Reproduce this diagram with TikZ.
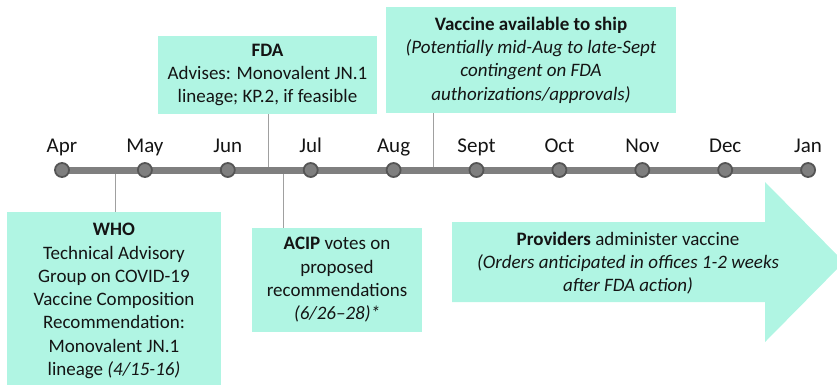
\documentclass[tikz,border=0pt]{standalone}
\usepackage{fontspec}
\setmainfont{Carlito}
\definecolor{mint}{RGB}{176,245,227}
\definecolor{txt}{RGB}{20,20,20}
\definecolor{tlgray}{RGB}{127,127,127}
\definecolor{dotedge}{RGB}{85,85,85}
\definecolor{conngray}{RGB}{160,160,160}
\tikzset{
  box/.style={fill=mint, draw=none, inner sep=0pt, align=center, text=txt,
    font=\fontsize{19}{23.3}\selectfont},
  month/.style={font=\fontsize{21}{24}\selectfont, anchor=base, text=txt, inner sep=0pt},
  tldot/.style={circle, fill=tlgray, draw=dotedge, line width=1.8pt, minimum size=14pt, inner sep=0pt},
  conn/.style={draw=conngray, line width=1pt},
  tline/.style={draw=tlgray, line width=7pt}
}
\begin{document}
\begin{tikzpicture}[x=1pt,y=-1pt]
\useasboundingbox (0,0) rectangle (837,384);
% boxes
\node[box, minimum width=214pt, minimum height=178pt] (who) at (114,301)
  {\textbf{WHO}\\Technical Advisory\\Group on COVID-19\\Vaccine Composition\\Recommendation:\\Monovalent JN.1\\lineage \textit{(4/15-16)}};
\node[box, minimum width=219pt, minimum height=78pt] (fda) at (267.5,75)
  {\textbf{FDA}\\Advises: Monovalent JN.1\\lineage; KP.2, if feasible};
\node[box, minimum width=290pt, minimum height=106pt] (vac) at (531,60)
  {\textbf{Vaccine available to ship}\\\textit{(Potentially mid-Aug to late-Sept}\\\textit{contingent on FDA}\\\textit{authorizations/approvals)}};
\node[box, minimum width=170pt, minimum height=104pt] (acip) at (337,280)
  {\textbf{ACIP} votes on\\proposed\\recommendations\\\textit{(6/26–28)*}};
% arrow
\fill[mint] (452,222) -- (765,222) -- (765,182) -- (844,262) -- (765,342) -- (765,302) -- (452,302) -- cycle;
\node[box, fill=none] (prov) at (628,263)
  {\textbf{Providers} administer vaccine\\\textit{(Orders anticipated in offices 1-2 weeks}\\\textit{after FDA action)}};
% connector anchors on timeline
\coordinate (cwho) at (115,170);
\coordinate (cfda) at (268,170);
\coordinate (cacip) at (283,170);
\coordinate (cvac) at (433,170);
\draw[conn] (cwho) -- (cwho |- who.north);
\draw[conn] (cfda) -- (cfda |- fda.south);
\draw[conn] (cacip) -- (cacip |- acip.north);
\draw[conn] (cvac) -- (cvac |- vac.south);
% timeline
\foreach \m [count=\i from 0] in {Apr,May,Jun,Jul,Aug,Sept,Oct,Nov,Dec,Jan}{
  \coordinate (p\i) at ({62+82.9*\i},170);
}
\draw[tline] (p0) -- (p9);
\foreach \m [count=\i from 0] in {Apr,May,Jun,Jul,Aug,Sept,Oct,Nov,Dec,Jan}{
  \node[tldot] (d\i) at (p\i) {};
  \node[month] (m\i) at ({62+82.9*\i},152) {\m};
}
\end{tikzpicture}
\end{document}
